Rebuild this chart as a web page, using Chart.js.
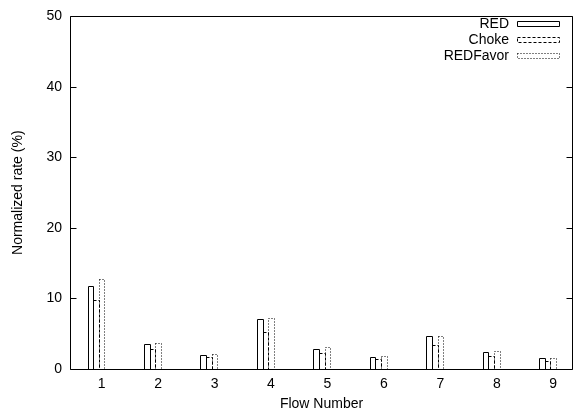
<!DOCTYPE html>
<html>
<head>
<meta charset="utf-8">
<script src="https://cdn.jsdelivr.net/npm/chart.js@4"></script>
<style>
  html, body { margin: 0; padding: 0; background: #fff; }
  #wrap { width: 574px; height: 414px; }
</style>
</head>
<body>
<div id="wrap"><canvas id="rateChart" width="574" height="414"></canvas></div>
<script>
const flows = [1, 2, 3, 4, 5, 6, 7, 8, 9];
const redRates = [11.8, 3.5, 2.0, 7.1, 2.9, 1.7, 4.7, 2.4, 1.5];
const chokeRates = [9.8, 2.8, 1.7, 5.3, 2.3, 1.35, 3.4, 1.9, 1.2];
const redFavorRates = [12.8, 3.7, 2.1, 7.3, 3.05, 1.85, 4.7, 2.5, 1.6];
const yTicks = [0, 10, 20, 30, 40, 50];

const FONT = { family: 'Liberation Sans, Arial, sans-serif', size: 14 };
// gnuplot puts the last box of each group on the tick
const groupShift = 0.1;

function series(label, values, dash) {
  return {
    label,
    data: values.map((v, i) => ({ x: flows[i] - groupShift, y: v })),
    backgroundColor: 'rgba(0,0,0,0)',
    borderWidth: 0,
    outlineDash: dash
  };
}

// empty boxes with dashed outlines, the frame and inward tics
const gnuplotLook = {
  id: 'gnuplotLook',
  afterDatasetsDraw(chart) {
    const ctx = chart.ctx;
    const area = chart.chartArea;
    ctx.save();
    ctx.strokeStyle = '#000';
    ctx.lineWidth = 1;

    chart.data.datasets.forEach((ds, di) => {
      const meta = chart.getDatasetMeta(di);
      ctx.setLineDash(ds.outlineDash);
      meta.data.forEach((bar) => {
        const { x, y, base, width } = bar.getProps(['x', 'y', 'base', 'width'], true);
        const l = Math.round(x - width / 2) + 0.5;
        const r = Math.round(x + width / 2) + 0.5;
        const t = Math.round(y) + 0.5;
        const b = Math.round(base) + 0.5;
        ctx.beginPath();
        ctx.rect(l, t, r - l, b - t);
        ctx.stroke();
      });
    });

    ctx.setLineDash([]);
    const L = Math.round(area.left) + 0.5;
    const R = Math.round(area.right) - 0.5;
    const T = Math.round(area.top) + 0.5;
    const B = Math.round(area.bottom) + 0.5;
    ctx.beginPath();
    ctx.rect(L, T, R - L, B - T);
    ctx.stroke();

    const yScale = chart.scales.y;
    yScale.ticks.forEach((tk) => {
      const py = Math.round(yScale.getPixelForValue(tk.value)) + 0.5;
      ctx.beginPath();
      ctx.moveTo(L, py); ctx.lineTo(L + 6, py);
      ctx.moveTo(R, py); ctx.lineTo(R - 6, py);
      ctx.stroke();
    });

    // key, gnuplot style: right aligned text then a sample box
    ctx.font = `${FONT.size}px ${FONT.family}`;
    ctx.fillStyle = '#000';
    ctx.textAlign = 'right';
    ctx.textBaseline = 'middle';
    chart.data.datasets.forEach((ds, di) => {
      const rowY = 24 + di * 16;
      ctx.fillText(ds.label, 509, rowY);
      ctx.setLineDash(ds.outlineDash);
      ctx.beginPath();
      ctx.rect(517.5, rowY - 2.5, 42, 5);
      ctx.stroke();
    });
    ctx.restore();
  }
};

new Chart(document.getElementById('rateChart'), {
  type: 'bar',
  data: {
    datasets: [
      series('RED', redRates, []),
      series('Choke', chokeRates, [3, 2]),
      series('REDFavor', redFavorRates, [1, 2])
    ]
  },
  options: {
    responsive: false,
    animation: false,
    devicePixelRatio: 1,
    categoryPercentage: 0.3,
    barPercentage: 1,
    layout: { padding: { top: 12, right: 1, left: 0, bottom: 0 } },
    plugins: { legend: { display: false }, tooltip: { enabled: false } },
    scales: {
      x: {
        type: 'linear',
        min: 0.44,
        max: 9.35,
        offset: false,
        afterBuildTicks: (s) => { s.ticks = flows.map((v) => ({ value: v })); },
        afterFit: (s) => { s.height = 45; },
        grid: { display: false, drawTicks: false },
        border: { display: false },
        ticks: { color: '#000', font: FONT, padding: 7, maxRotation: 0 },
        title: { display: true, text: 'Flow Number', color: '#000', font: FONT, padding: { top: 0, bottom: 1 } }
      },
      y: {
        min: 0,
        max: 50,
        afterBuildTicks: (s) => { s.ticks = yTicks.map((v) => ({ value: v })); },
        afterFit: (s) => { s.width = 70; },
        grid: { display: false, drawTicks: false },
        border: { display: false },
        ticks: { color: '#000', font: FONT, padding: 8 },
        title: { display: true, text: 'Normalized rate (%)', color: '#000', font: FONT, padding: { top: 10, bottom: 0 } }
      }
    }
  },
  plugins: [gnuplotLook]
});
</script>
</body>
</html>
